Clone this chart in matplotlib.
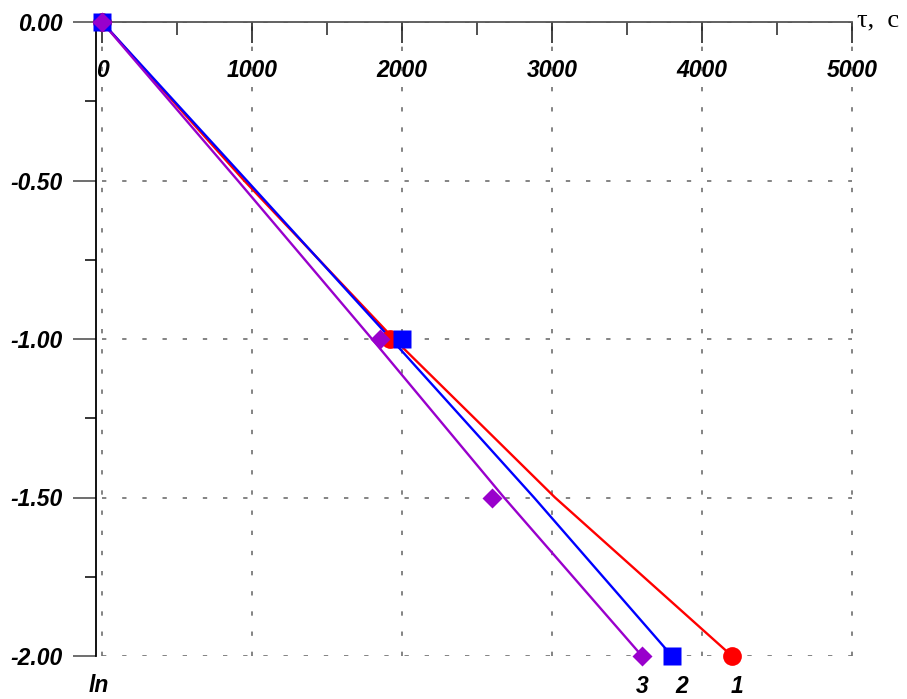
import matplotlib
matplotlib.use("Agg")
import matplotlib.pyplot as plt
from matplotlib.ticker import MultipleLocator, FixedLocator

# ---- data ----
# measured points (tau, ln)
red_x = [0, 1920, 4200]
red_y = [0.0, -1.0, -2.0]
blue_x = [0, 2000, 3800]
blue_y = [0.0, -1.0, -2.0]
purple_x = [0, 1850, 2600, 3600]
purple_y = [0.0, -1.0, -1.5, -2.0]

# approximating curves read at ln = 0, -0.5, -1, -1.5, -2
curve_y = [0.0, -0.5, -1.0, -1.5, -2.0]
red_curve_x = [0, 947, 1947, 3020, 4200]
blue_curve_x = [0, 965, 1927, 2880, 3800]
purple_curve_x = [0, 905, 1800, 2680, 3600]

x_ticks = [0, 1000, 2000, 3000, 4000, 5000]
x_tick_labels = ["0", "1000", "2000", "3000", "4000", "5000"]
y_ticks = [0.0, -0.5, -1.0, -1.5, -2.0]
y_tick_labels = ["0.00", "-0.50", "-1.00", "-1.50", "-2.00"]
curve_labels = ["1", "2", "3"]

RED = "#ff0000"
BLUE = "#0000ff"
PURPLE = "#9900cc"

fig = plt.figure(figsize=(9.07, 6.99), dpi=100)
ax = fig.add_axes([102 / 907, 1 - 656 / 699, 750 / 907, 634 / 699])
ax.set_xlim(0, 5000)
ax.set_ylim(-2, 0)

FS = 16.5
lab_font = dict(family="Liberation Sans", weight="bold", style="italic", size=FS)

# grid
grid_kw = dict(color="#6e6e6e", lw=1.2, linestyle=(0, (2.6, 9.5)))
ax.xaxis.set_major_locator(FixedLocator(x_ticks))
ax.yaxis.set_major_locator(FixedLocator(y_ticks))
ax.xaxis.set_minor_locator(MultipleLocator(500))
ax.yaxis.set_minor_locator(MultipleLocator(0.25))
ax.grid(True, which="major", **grid_kw)
for gl in ax.get_xgridlines() + ax.get_ygridlines():
    gl.set_clip_on(False)

# spines
for s in ["right", "bottom"]:
    ax.spines[s].set_visible(False)
ax.spines["top"].set_color("#555555")
ax.spines["top"].set_linewidth(1.3)
ax.spines["left"].set_color("black")
ax.spines["left"].set_linewidth(1.3)
ax.spines["left"].set_position(("outward", 4))

# x ticks on top, pointing down, labels below the axis line
ax.xaxis.tick_top()
ax.set_xticklabels(x_tick_labels, fontdict=lab_font)
ax.tick_params(axis="x", which="major", direction="in", length=15, width=1.2,
               color="#222222", top=True, bottom=False, labeltop=True,
               labelbottom=False, pad=-43)
ax.tick_params(axis="x", which="minor", direction="in", length=9, width=1.1,
               color="#222222", top=True, bottom=False)

# y ticks outward on left
ax.set_yticklabels(y_tick_labels, fontdict=lab_font)
ax.tick_params(axis="y", which="major", direction="out", length=16.5, width=1.2,
               color="#555555", pad=8)
ax.tick_params(axis="y", which="minor", direction="out", length=8, width=1.1,
               color="black")

# curves
ax.plot(red_curve_x, curve_y, color=RED, lw=1.7, zorder=3, clip_on=False)
ax.plot(blue_curve_x, curve_y, color=BLUE, lw=1.7, zorder=3, clip_on=False)
ax.plot(purple_curve_x, curve_y, color=PURPLE, lw=1.7, zorder=3, clip_on=False)

# markers
ax.plot(red_x, red_y, "o", color=RED, ms=13.5, mec="none", zorder=4, clip_on=False)
ax.plot(blue_x, blue_y, "s", color=BLUE, ms=13, mec="none", zorder=5, clip_on=False)
ax.plot(purple_x, purple_y, "D", color=PURPLE, ms=10.5, mec="none", zorder=6, clip_on=False)

# curve number labels below the end points
ends = [(red_x[-1], red_y[-1], 5), (blue_x[-1], blue_y[-1], 10), (purple_x[-1], purple_y[-1], 0)]
for lab, (ex, ey, dx) in zip(curve_labels, ends):
    ax.annotate(lab, (ex, ey), xytext=(dx * 0.72, -22), textcoords="offset points",
                ha="center", va="center", annotation_clip=False, **{
                    "family": "Liberation Sans", "weight": "bold",
                    "style": "italic", "size": FS})

# axis titles
fig.text(857 / 907, 1 - 20 / 699, "τ,  с", family="Liberation Serif",
         size=19, ha="left", va="center")
fig.text(99 / 907, 1 - 686 / 699, "ln", family="Liberation Sans",
         weight="bold", style="italic", size=FS, ha="center", va="center")

fig.savefig("out.png", dpi=100)
